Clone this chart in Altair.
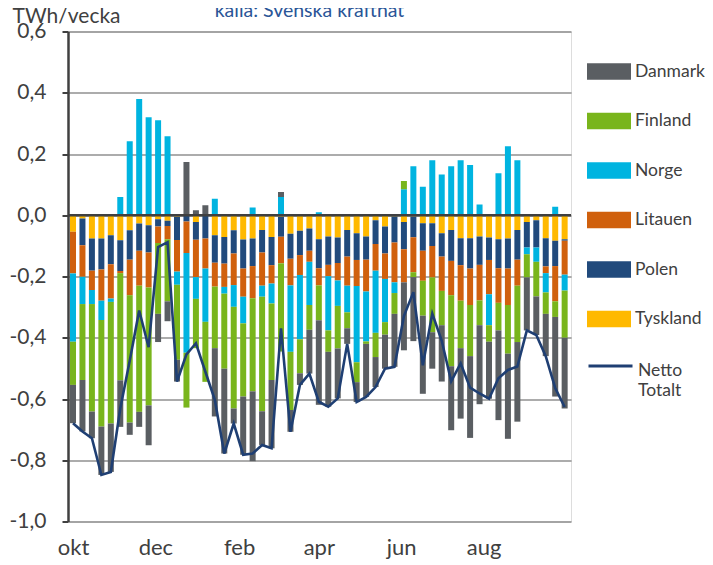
import altair as alt
import pandas as pd

# Week start dates (one bar per week, Oct 2012 - Sep 2013)
veckor = [d.strftime("%Y-%m-%d") for d in pd.date_range("2012-10-01", periods=53, freq="7D")]

tyskland = [-0.054, -0.011, -0.076, -0.076, -0.065, -0.082, -0.049, -0.027, -0.033, -0.013,
            -0.018, -0.005, 0.0, -0.022, 0.0, -0.065, -0.071, -0.049, -0.079, -0.076,
            -0.048, -0.071, -0.005, -0.060, -0.051, -0.043, -0.078, -0.069, -0.073, -0.048,
            -0.059, -0.069, -0.016, -0.037, -0.004, -0.022, -0.004, -0.026, -0.026, -0.059,
            -0.048, -0.075, -0.075, -0.069, -0.073, -0.078, -0.076, -0.048, -0.022, -0.016,
            -0.075, -0.083, -0.078]
polen = [0.0, -0.087, -0.105, -0.101, -0.095, -0.100, -0.096, -0.089, -0.089, -0.024,
         -0.017, -0.076, -0.020, -0.058, -0.076, -0.090, -0.087, -0.076, -0.095, -0.090,
         -0.074, -0.092, -0.065, -0.082, -0.079, -0.073, -0.095, -0.093, -0.083, -0.087,
         -0.087, -0.076, -0.078, -0.088, -0.085, -0.089, -0.068, -0.090, -0.074, -0.076,
         -0.101, -0.088, -0.099, -0.093, -0.073, -0.095, -0.098, -0.097, -0.083, -0.089,
         -0.092, -0.083, -0.005]
litauen = [-0.136, -0.103, -0.063, -0.102, -0.112, -0.007, -0.116, -0.114, -0.114, -0.054,
           -0.043, -0.103, -0.103, -0.122, -0.098, -0.078, -0.076, -0.103, -0.092, -0.105,
           -0.108, -0.060, -0.087, -0.087, -0.065, -0.036, -0.056, -0.037, -0.057, -0.095,
           -0.085, -0.104, -0.087, -0.083, -0.130, -0.108, -0.114, -0.098, -0.103, -0.112,
           -0.112, -0.116, -0.119, -0.116, -0.112, -0.113, -0.119, -0.085, 0.0, 0.0,
           -0.022, -0.115, -0.111]
norge = [-0.223, -0.089, -0.046, -0.063, -0.011, 0.060, 0.242, 0.380, 0.320, 0.310,
         0.258, -0.043, -0.326, -0.071, -0.174, 0.054, -0.022, -0.071, -0.087, 0.025,
         -0.036, -0.065, 0.060, -0.217, -0.210, -0.141, 0.010, -0.177, -0.083, -0.087,
         -0.249, -0.163, -0.203, -0.141, -0.035, 0.085, 0.160, 0.093, 0.180, 0.133,
         0.160, 0.180, 0.164, 0.035, -0.101, 0.137, 0.225, 0.180, -0.022, -0.047,
         -0.063, 0.028, -0.052]
finland = [-0.141, -0.248, -0.351, -0.348, -0.397, -0.350, -0.416, -0.412, -0.385, -0.231,
           -0.203, -0.245, -0.179, -0.161, -0.196, -0.201, -0.245, -0.332, -0.239, -0.304,
           -0.374, -0.250, -0.288, -0.190, -0.111, -0.081, -0.114, -0.070, -0.139, -0.052,
           -0.065, -0.008, -0.079, -0.041, -0.068, 0.027, -0.016, -0.114, -0.179, -0.112,
           -0.232, -0.155, -0.167, -0.081, -0.054, -0.090, -0.159, -0.184, -0.076, -0.113,
           -0.070, -0.051, -0.154]
danmark = [-0.125, -0.168, -0.087, -0.158, -0.158, -0.152, -0.040, -0.049, -0.130, -0.092,
           -0.065, -0.071, 0.174, 0.016, 0.033, -0.223, -0.277, -0.049, -0.190, -0.228,
           -0.110, -0.223, 0.016, -0.071, -0.038, -0.143, -0.276, -0.179, -0.163, -0.051,
           -0.065, -0.173, -0.098, -0.111, -0.173, -0.222, -0.209, -0.255, -0.119, -0.184,
           -0.209, -0.230, -0.267, -0.258, -0.186, -0.293, -0.278, -0.260, -0.173, -0.126,
           -0.138, -0.260, -0.231]
netto = [-0.679, -0.706, -0.728, -0.848, -0.838, -0.631, -0.475, -0.311, -0.431, -0.104,
         -0.088, -0.543, -0.454, -0.418, -0.511, -0.603, -0.778, -0.680, -0.782, -0.778,
         -0.750, -0.761, -0.369, -0.707, -0.554, -0.517, -0.609, -0.625, -0.598, -0.420,
         -0.610, -0.593, -0.561, -0.501, -0.495, -0.329, -0.251, -0.490, -0.321, -0.410,
         -0.542, -0.484, -0.563, -0.582, -0.599, -0.532, -0.505, -0.494, -0.376, -0.391,
         -0.460, -0.564, -0.626]

legend_order = ["Danmark", "Finland", "Norge", "Litauen", "Polen", "Tyskland"]
colors = ["#5A5E62", "#79B51C", "#00B4E0", "#D0600D", "#214A7C", "#FFB900"]
stack_order = ["Tyskland", "Polen", "Litauen", "Norge", "Finland", "Danmark"]
series = {"Tyskland": tyskland, "Polen": polen, "Litauen": litauen,
          "Norge": norge, "Finland": finland, "Danmark": danmark}

rows = []
for land in stack_order:
    for v, val in zip(veckor, series[land]):
        rows.append({"vecka": v, "land": land, "varde": val, "ordn": stack_order.index(land)})
df = pd.DataFrame(rows)
dfn = pd.DataFrame({"vecka": veckor, "netto": netto, "serie": "Netto Totalt"})

FONT = "Lato"
TXT = "#404040"

d0 = alt.DateTime(year=2012, month=10, date=1, utc=True)
d1 = alt.DateTime(year=2013, month=10, date=1, utc=True)
month_ticks = [alt.DateTime(year=y, month=m, date=1, utc=True)
               for y, m in [(2012, 10), (2012, 12), (2013, 2), (2013, 4), (2013, 6), (2013, 8)]]

xscale = alt.Scale(type="utc", domain=[d0, d1])
yscale = alt.Scale(domain=[-1.0, 0.6], nice=False)

xaxis = alt.Axis(
    values=month_ticks,
    labelExpr="['jan','feb','mar','apr','maj','jun','jul','aug','sep','okt','nov','dec'][utcmonth(datum.value)]",
    labelFont=FONT, labelFontSize=22, labelColor=TXT, labelPadding=16,
    ticks=False, tickSize=0, domain=False, grid=False, title=None,
    labelAlign="center", labelFlush=False, labelOverlap=False,
)
yaxis = alt.Axis(
    values=[-1.0, -0.8, -0.6, -0.4, -0.2, 0.0, 0.2, 0.4, 0.6],
    labelExpr="(datum.value < -0.001 ? '-' : '') + replace(format(abs(datum.value), '.1f'), '.', ',')",
    labelFont=FONT, labelFontSize=21, labelColor=TXT, labelPadding=16,
    tickSize=6, tickColor=TXT, tickWidth=2,
    domainColor=TXT, domainWidth=2.5,
    grid=True, gridColor="#5A5A5A", gridWidth=1.2,
    title="TWh/vecka", titleAngle=0, titleAlign="left", titleBaseline="alphabetic",
    titleX=-56, titleY=-9, titleFont=FONT, titleFontSize=21, titleFontWeight="normal",
    titleColor=TXT,
)

bars = alt.Chart(df).mark_bar(size=6, clip=True).encode(
    x=alt.X("vecka:T", scale=xscale, axis=xaxis),
    y=alt.Y("varde:Q", stack="zero", scale=yscale, axis=yaxis),
    fill=alt.Fill("land:N", scale=alt.Scale(domain=legend_order, range=colors),
                  legend=alt.Legend(
                      orient="none", legendX=519, legendY=18, title=None, padding=0,
                      symbolType="M-1,-0.37H1V0.37H-1Z", symbolSize=1936,
                      symbolStrokeWidth=0, rowPadding=18.5,
                      labelFont=FONT, labelFontSize=17.5, labelColor=TXT, labelOffset=4,
                  )),
    order=alt.Order("ordn:Q", sort="ascending"),
)

zero = alt.Chart(pd.DataFrame({"varde": [0.0]})).mark_rule(color=TXT, strokeWidth=2.5).encode(
    y=alt.Y("varde:Q", scale=yscale, axis=yaxis),
)

line = alt.Chart(dfn).mark_line(strokeWidth=2.6, clip=True).encode(
    x=alt.X("vecka:T", scale=xscale, axis=xaxis),
    y=alt.Y("netto:Q", scale=yscale, axis=yaxis),
    stroke=alt.Stroke("serie:N", scale=alt.Scale(domain=["Netto Totalt"], range=["#1F3F73"]),
                      legend=alt.Legend(
                          orient="none", legendX=519, legendY=321, title=None, padding=0,
                          symbolType="M-1,-0.45L1,-0.45", symbolSize=1936, symbolStrokeWidth=3,
                          labelExpr="['Netto', 'Totalt']", labelBaseline="alphabetic",
                          labelFont=FONT, labelFontSize=17.5, labelColor=TXT, labelOffset=4,
                      )),
)

chart = alt.layer(bars, zero, line).properties(
    width=503, height=490,
    padding={"left": 60, "top": 23.5, "right": 134, "bottom": 38},
    autosize=alt.AutoSizeParams(type="none"),
    title=alt.TitleParams(
        "källa: Svenska kraftnät", anchor="middle", frame="group", offset=0, dx=-10, dy=31,
        color="#2A5597", font=FONT, fontSize=19.5, fontWeight="normal", baseline="alphabetic",
    ),
).configure_view(stroke=None).configure(background="white")

chart.save("out.html", embed_options={"renderer": "svg", "actions": False})
